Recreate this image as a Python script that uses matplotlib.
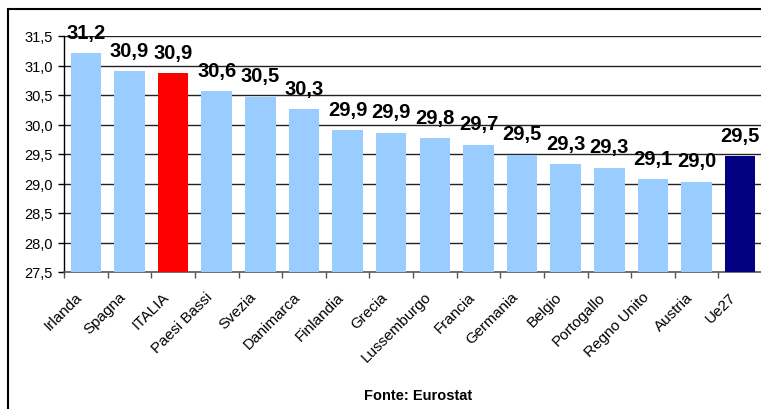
import matplotlib
matplotlib.use("Agg")
import matplotlib.pyplot as plt
import matplotlib.transforms as mtransforms
from matplotlib.patches import Rectangle
from matplotlib.ticker import FuncFormatter
import numpy as np

plt.rcParams['font.family'] = ['Liberation Sans', 'DejaVu Sans']

countries = ["Irlanda", "Spagna", "ITALIA", "Paesi Bassi", "Svezia", "Danimarca",
             "Finlandia", "Grecia", "Lussemburgo", "Francia", "Germania", "Belgio",
             "Portogallo", "Regno Unito", "Austria", "Ue27"]
values = [31.21, 30.90, 30.87, 30.56, 30.47, 30.26, 29.91, 29.86, 29.77, 29.66,
          29.49, 29.33, 29.27, 29.07, 29.03, 29.46]
colors = ["#99CCFF"] * 16
colors[2] = "#FF0000"
colors[15] = "#000080"
yticks = [27.5, 28.0, 28.5, 29.0, 29.5, 30.0, 30.5, 31.0, 31.5]
source = "Fonte: Eurostat"

W, H = 761, 410
fig = plt.figure(figsize=(W / 100, H / 100), dpi=100)
ax = fig.add_axes([64 / W, 1 - 273 / H, 698 / W, 236 / H])

x = np.arange(len(countries))
ax.bar(x, values, width=0.7, color=colors, zorder=3)

ax.set_xlim(-0.5, len(countries) - 0.5)
ax.set_ylim(yticks[0], yticks[-1])
ax.set_yticks(yticks)
ax.yaxis.set_major_formatter(FuncFormatter(lambda v, p: f"{v:.1f}".replace('.', ',')))
ax.tick_params(axis='y', length=4, width=1, labelsize=10.5, pad=4, colors='black')

for yv in yticks[1:]:
    ax.axhline(yv, color='#222222', lw=1, zorder=1)

ax.set_xticks(np.arange(-0.5, len(countries), 1))
ax.set_xticklabels([])
ax.tick_params(axis='x', which='major', length=4, width=1, color='#555555')
ax.set_xticks(x, minor=True)
ax.set_xticklabels(countries, minor=True, rotation=45, ha='right', va='center',
                   rotation_mode='anchor', fontsize=11)
ax.tick_params(axis='x', which='minor', length=0, pad=16)
shift = mtransforms.ScaledTranslation(-0.06, 0, fig.dpi_scale_trans)
for lab in ax.get_xticklabels(minor=True):
    lab.set_transform(lab.get_transform() + shift)

for s in ['top', 'right']:
    ax.spines[s].set_visible(False)
ax.spines['left'].set_color('black')
ax.spines['left'].set_linewidth(1)
ax.spines['bottom'].set_color('#555555')
ax.spines['bottom'].set_linewidth(1.2)

for xi, v in zip(x, values):
    ax.annotate(f"{v:.1f}".replace('.', ','), (xi, v), xytext=(0, 11),
                textcoords='offset points', ha='center', va='baseline',
                fontsize=14.5, fontweight='bold', annotation_clip=False)

fig.text(418 / W, 1 - 396 / H, source, ha='center', va='center',
         fontsize=10.5, fontweight='bold')

fig.patches.append(Rectangle((8 / W, -0.1), 1.2, 1.1 - 10 / H, transform=fig.transFigure,
                             fill=False, edgecolor='black', lw=1.5, figure=fig))

fig.savefig("out.png", dpi=100)
